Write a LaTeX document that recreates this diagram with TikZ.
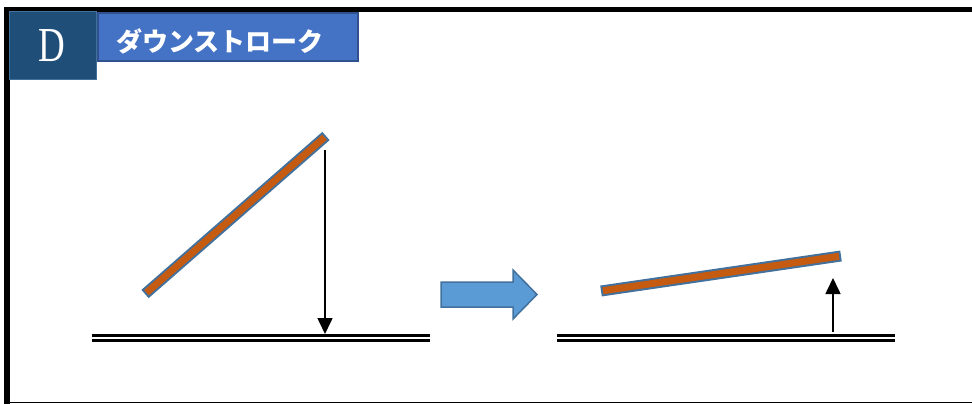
\documentclass[tikz,border=0pt]{standalone}
\usepackage{fontspec}
\usepackage{graphicx}
\setmainfont{Liberation Serif}
\newfontfamily\jp{Noto Sans CJK JP}
\usetikzlibrary{arrows.meta}
\definecolor{rodfill}{HTML}{C55A11}
\definecolor{rodedge}{HTML}{41719C}
\definecolor{dbox}{HTML}{1F4E79}
\definecolor{dedge}{HTML}{41719C}
\definecolor{tbox}{HTML}{4472C4}
\definecolor{tedge}{HTML}{2F528F}
\definecolor{bigarrow}{HTML}{5B9BD5}
\tikzset{
  rodout/.style={draw=rodedge, line width=11pt},
  rodin/.style={draw=rodfill, line width=7pt, shorten <=2pt, shorten >=2pt},
  groundline/.style={line width=3pt, black},
  motion/.style={line width=1.6pt, -{Triangle[length=16pt,width=15pt]}},
  blockarrow/.style={draw=rodedge, fill=bigarrow, line width=1.5pt, line join=miter},
}
\begin{document}
\begin{tikzpicture}[x=1pt,y=-1pt]
\useasboundingbox (0,0) rectangle (972,404);
% frame
\draw[line width=5pt] (4,9.5) -- (972,9.5);
\draw[line width=6pt] (7,7) -- (7,404);
\draw[line width=1.2pt] (4,402.8) -- (972,402.8);
% header
\node[draw=dedge, fill=dbox, line width=1pt, minimum width=87pt, minimum height=68pt, inner sep=0pt] (dlabel) at (52.5,46) {};
\node[text=white, font=\fontsize{37}{37}\selectfont, inner sep=0pt] (dtext) at (52,46) {\scalebox{1}[1.32]{D}};
\node[draw=tedge, fill=tbox, line width=1.5pt, minimum width=260pt, minimum height=48pt, inner sep=0pt] (title) at (228,37) {};
\node[text=white, font=\jp\bfseries\fontsize{26}{26}\selectfont, inner sep=0pt] (titletext) at (220,41) {ダウンストローク};
% left scene
\coordinate (l1) at (145,294);
\coordinate (l2) at (326,136);
\draw[rodout] (l1) -- (l2);
\draw[rodin] (l1) -- (l2);
\coordinate (ga1) at (92,335);
\coordinate (ga2) at (430,335);
\coordinate (gb1) at (92,340.5);
\coordinate (gb2) at (430,340.5);
\draw[groundline] (ga1) -- (ga2);
\draw[groundline] (gb1) -- (gb2);
\coordinate (da) at (325,150);
\coordinate (db) at (325,334);
\draw[motion] (da) -- (db);
% big arrow
\draw[blockarrow] (441,282) -- (513,282) -- (513,270) -- (537,294.5) -- (513,319) -- (513,307) -- (441,307) -- cycle;
% right scene
\coordinate (r1) at (601,291);
\coordinate (r2) at (841,256);
\draw[rodout] (r1) -- (r2);
\draw[rodin] (r1) -- (r2);
\coordinate (gc1) at (557,335);
\coordinate (gc2) at (895,335);
\coordinate (gd1) at (557,340.5);
\coordinate (gd2) at (895,340.5);
\draw[groundline] (gc1) -- (gc2);
\draw[groundline] (gd1) -- (gd2);
\coordinate (ua) at (833,332);
\coordinate (ub) at (833,278);
\draw[motion] (ua) -- (ub);
\end{tikzpicture}
\end{document}
